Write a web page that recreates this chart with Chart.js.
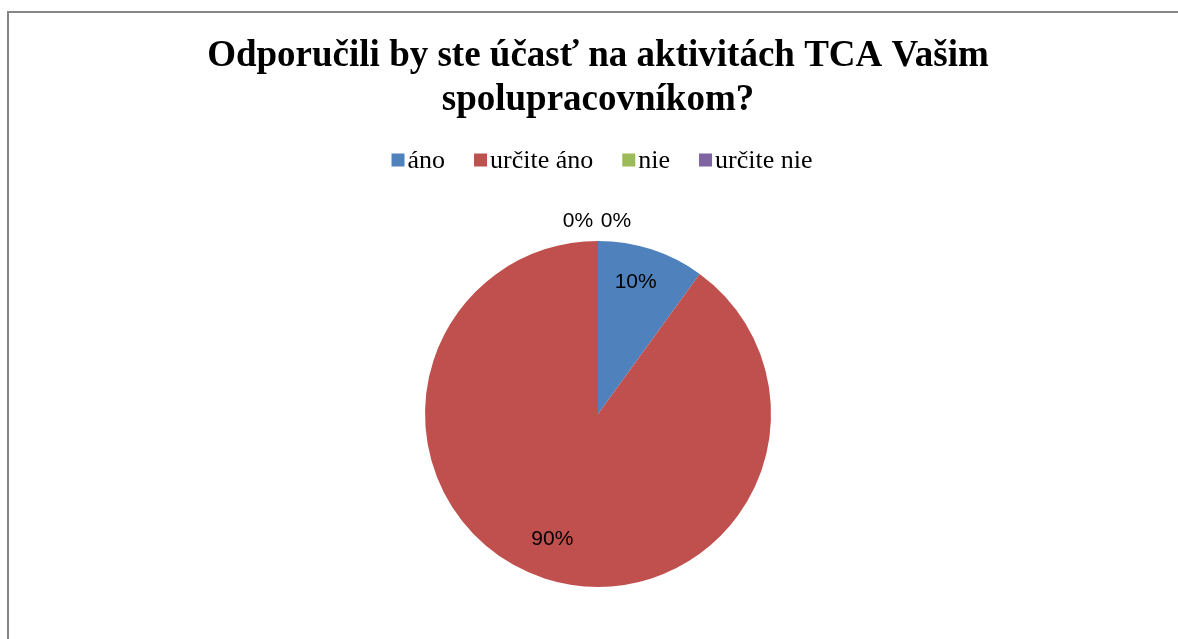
<!DOCTYPE html>
<html>
<head>
<meta charset="utf-8">
<script src="https://cdn.jsdelivr.net/npm/chart.js@4.4.1/dist/chart.umd.min.js"></script>
<style>
  html, body { margin: 0; padding: 0; background: #fff; overflow: hidden; }
  #wrap { width: 1178px; height: 700px; position: relative; }
</style>
</head>
<body>
<div id="wrap"><canvas id="pieChart"></canvas></div>
<script>
// dados do gráfico
const titulo = ["Odporučili by ste účasť na aktivitách TCA Vašim", "spolupracovníkom?"];
const categorias = ["áno", "určite áno", "nie", "určite nie"];
const valores = [10, 90, 0, 0];
const cores = ["#4F81BD", "#C0504D", "#9BBB59", "#8064A2"];

// moldura cinza à esquerda e em cima
const moldura = {
  id: "moldura",
  beforeDraw(chart) {
    const ctx = chart.ctx;
    ctx.save();
    ctx.strokeStyle = "#868686";
    ctx.lineWidth = 2;
    ctx.beginPath();
    ctx.moveTo(8, chart.height);
    ctx.lineTo(8, 12);
    ctx.lineTo(chart.width, 12);
    ctx.stroke();
    ctx.restore();
  }
};

// legenda desenhada à mão (caixa colada ao texto, como no Excel)
const legenda = {
  id: "legenda",
  afterDraw(chart) {
    const ctx = chart.ctx;
    const caixa = 13, gapTexto = 3, gapItem = 29, yMeio = 160;
    ctx.save();
    ctx.font = "26px 'Liberation Serif', 'Times New Roman', serif";
    ctx.textBaseline = "middle";
    ctx.textAlign = "left";
    const larguras = categorias.map(c => ctx.measureText(c).width);
    const total = larguras.reduce((a, b) => a + b, 0) + categorias.length * (caixa + gapTexto) + (categorias.length - 1) * gapItem;
    let x = 602 - total / 2;
    categorias.forEach((c, i) => {
      ctx.fillStyle = cores[i];
      ctx.fillRect(x, yMeio - caixa / 2, caixa, caixa);
      x += caixa + gapTexto;
      ctx.fillStyle = "#000";
      ctx.fillText(c, x, yMeio + 1);
      x += larguras[i] + gapItem;
    });
    ctx.restore();
  }
};

// rótulos de percentagem
const rotulos = {
  id: "rotulos",
  afterDatasetsDraw(chart) {
    const ctx = chart.ctx;
    const meta = chart.getDatasetMeta(0);
    const total = valores.reduce((a, b) => a + b, 0);
    let zeros = 0;
    ctx.save();
    ctx.font = "21px 'Liberation Sans', Arial, sans-serif";
    ctx.fillStyle = "#000";
    ctx.textAlign = "center";
    ctx.textBaseline = "middle";
    meta.data.forEach((arc, i) => {
      const { x, y, startAngle, endAngle, outerRadius } = arc.getProps(["x", "y", "startAngle", "endAngle", "outerRadius"], true);
      const pct = Math.round(valores[i] / total * 100) + "%";
      if (valores[i] > 0) {
        const meio = (startAngle + endAngle) / 2;
        const r = outerRadius * 0.78;
        ctx.fillText(pct, x + Math.cos(meio) * r - 4, y + Math.sin(meio) * r - 3);
      } else {
        const dx = zeros === 0 ? -20 : 18;
        ctx.fillText(pct, x + dx, y - outerRadius - 20);
        zeros++;
      }
    });
    ctx.restore();
  }
};

const ctx = document.getElementById("pieChart").getContext("2d");
new Chart(ctx, {
  type: "pie",
  data: {
    labels: categorias,
    datasets: [{
      data: valores,
      backgroundColor: cores,
      borderWidth: 0,
      radius: 173
    }]
  },
  options: {
    responsive: true,
    maintainAspectRatio: false,
    animation: false,
    layout: { padding: { left: 18, right: 0, top: 0, bottom: 55 } },
    plugins: {
      title: {
        display: true,
        text: titulo,
        color: "#000",
        font: { family: "'Liberation Serif', 'Times New Roman', serif", size: 37, weight: "bold", lineHeight: 1.2 },
        padding: { top: 34, bottom: 60 }
      },
      legend: { display: false },
      tooltip: { enabled: false }
    }
  },
  plugins: [moldura, legenda, rotulos]
});
</script>
</body>
</html>
